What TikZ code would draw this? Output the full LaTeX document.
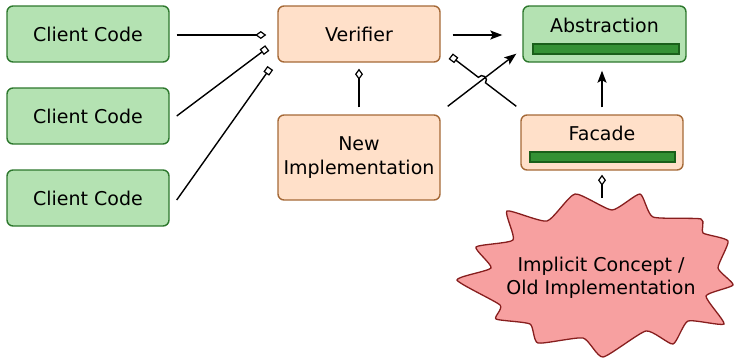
\documentclass[tikz,border=0pt]{standalone}
\usepackage{fontspec}
\setmainfont{DejaVu Sans}
\usetikzlibrary{arrows.meta,calc}
\definecolor{gfill}{RGB}{180,226,178}
\definecolor{gdraw}{RGB}{45,120,45}
\definecolor{ofill}{RGB}{255,224,201}
\definecolor{odraw}{RGB}{165,105,55}
\definecolor{barfill}{RGB}{52,145,52}
\definecolor{bardraw}{RGB}{25,95,25}
\definecolor{starfill}{RGB}{247,160,160}
\definecolor{stardraw}{RGB}{135,30,30}
\begin{document}
\begin{tikzpicture}[x=1pt,y=-1pt,
  lbl/.style={inner sep=0pt, align=center, font=\fontsize{19}{23.5}\selectfont},
  box/.style={lbl, draw, rounded corners=6pt, line width=1.4pt, minimum width=162pt},
  gbox/.style={box, fill=gfill, draw=gdraw},
  obox/.style={box, fill=ofill, draw=odraw},
  bar/.style={draw=bardraw, fill=barfill, line width=1.2pt, inner sep=0pt, minimum height=10pt},
  conn/.style={line width=1.4pt},
  dia/.style={conn, -{Diamond[open,length=11pt,width=8pt,line width=1.2pt]}},
  sq/.style={conn, -{Square[open,length=7pt,width=7pt,line width=1.2pt]}},
  arr/.style={conn, -{Stealth[length=12pt,width=9pt,inset=2.5pt]}}
]
\useasboundingbox (0,0) rectangle (735,359);

% boxes
\node[gbox, minimum height=56pt] (c1) at (88,34) {Client Code};
\node[gbox, minimum height=56pt] (c2) at (88,116) {Client Code};
\node[gbox, minimum height=56pt] (c3) at (88,198) {Client Code};
\node[obox, minimum height=56pt] (ver) at (359,34) {Verifier};
\node[obox, minimum height=85pt] (newi) at (359,157.5) {New\\Implementation};

\node[gbox, minimum width=163pt, minimum height=56pt] (abs) at (604.5,34) {};
\node[lbl] (abstxt) at (604.5,25) {Abstraction};
\node[bar, minimum width=146pt] (absbar) at (606,49) {};

\node[obox, minimum height=55pt] (fac) at (602,142.5) {};
\node[lbl] (factxt) at (602,133) {Facade};
\node[bar, minimum width=145pt] (facbar) at (602.5,157) {};

% star
\draw[draw=stardraw, fill=starfill, line width=1.3pt]
  plot[smooth cycle, tension=0.33] coordinates {(507,211) (547,221) (575,194) (612,210) (640,194) (653,217) (701,219) (703,233) (728,241) (718,268) (733,285) (706,296) (724,324) (688,321) (673,344) (646,331) (603,357) (583,338) (538,343) (530,324) (496,319) (500,305) (457,280) (491,268) (476,247) (513,240)};
\node[lbl] (star) at (601,278) {Implicit Concept /\\Old Implementation};

% connector end points
\coordinate (c1s) at ($(c1.east)+(7,1)$);
\coordinate (c1e) at ($(ver.west)+(-11,1)$);
\coordinate (c2s) at ($(c2.east)+(7,0)$);
\coordinate (c2e) at ($(ver.west)+(-10,14)$);
\coordinate (c3s) at ($(c3.east)+(7,2)$);
\coordinate (c3e) at ($(ver.west)+(-7,34)$);
\coordinate (ns) at ($(newi.north)+(0,-7)$);
\coordinate (ne) at ($(ver.south)+(0,6)$);
\coordinate (vs) at ($(ver.east)+(12,1)$);
\coordinate (ve) at ($(abs.west)+(-20,1)$);
\coordinate (nas) at ($(newi.north east)+(7,-8)$);
\coordinate (nae) at ($(abs.south west)+(-6,-9)$);
\coordinate (fs) at ($(fac.north west)+(-4,-8)$);
\coordinate (fe) at ($(ver.south east)+(10,-6.5)$);
\coordinate (hopA) at (485.5,82.8);
\coordinate (fas) at ($(fac.north)+(0,-7)$);
\coordinate (fae) at ($(abs.south)+(-2.5,8)$);
\coordinate (ss) at ($(star.center)+(1,-80)$);
\coordinate (se) at ($(fac.south)+(0,4)$);

% connectors
\draw[dia] (c1s) -- (c1e);
\draw[sq] (c2s) -- (c2e);
\draw[sq] (c3s) -- (c3e);
\draw[dia] (ns) -- (ne);
\draw[arr] (vs) -- (ve);
\draw[arr] (nas) -- (nae);
\draw[sq] (fs) -- (hopA) arc[start angle=37.5, delta angle=-180, radius=4.5] -- (fe);
\draw[arr] (fas) -- (fae);
\draw[dia] (ss) -- (se);
\end{tikzpicture}
\end{document}
